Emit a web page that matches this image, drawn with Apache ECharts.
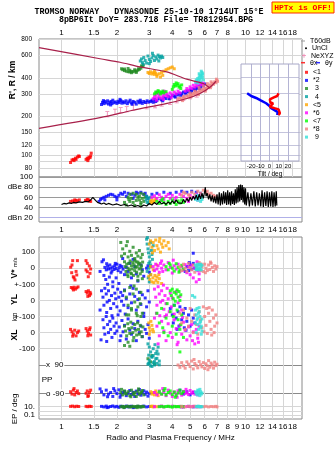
<!DOCTYPE html>
<html><head><meta charset="utf-8">
<script src="https://cdn.jsdelivr.net/npm/echarts@6/dist/echarts.min.js"></script>
<style>html,body{margin:0;padding:0;background:#fff}#c{width:335px;height:451px}</style>
</head><body><div id="c"></div>
<script>
// ---------- tick labels ----------
const FREQ_TICKS_TOP = [1,1.5,2,3,4,5,6,7,8,10,12,14,16,18];
const FREQ_TICKS = [1,1.5,2,3,4,5,6,7,8,9,10,12,14,16,18];
const R_TICKS = [80,90,100,120,150,200,300,400,600,800];
const DB_TICKS = [20,40,60,80,100];
const TILT_TICKS = [-20,-10,0,10,20];
const V_TICKS = [100,0];
const YL_TICKS = [100,0,-100];
const XL_TICKS = [0,-100];
const PP_TICKS = [90,-90];
const EP_TICKS = [10,1,0.1];
const EP_LABELS = [10,0.1];

// ---------- series meta ----------
const NAMES = ['<1','*2',' 3',' 4','<5','*6','<7','*8',' 9'];
const COLORS = ['#ff0000','#0000ff','#228b22','#00a0a0','#ffa500','#ff00ff','#00ff00','#f08080','#33e0d8'];

// ---------- model curves (MHz, km) ----------
const CURVE_A_F = [0.7545,1.619,2.08,2.67,3.73,4.79,5.9,6.35];
const CURVE_A_KM = [686,562,528,486,444,390,361,336];
const CURVE_B_F = [0.7545,1.619,2.446,3.745,4.81,5.66,6.41,6.91];
const CURVE_B_KM = [162,196,224,253,276,302,338,376];
const NE_F = [1.774,1.953,2.097,2.262,2.456,2.904,3.222,3.504,3.888,4.227,4.592,4.994,5.43];
const NE_KM = [208,218,224,228,235,241,245,253,260,268,279,288,297];

// ---------- tilt inset ----------
const THX_TILT = [9.8,8.3,4.7,0.3,-1.1,1.1,3.9,1.8,0.3,5.4,9.8,11.9,11.2,9.8];
const THX_KM = [302,288,281,271,262,255,253,245,238,232,227,221,212,205];
const THY_TILT = [-24.3,-20,-14.6,-9.1,-3.7,0,1.8,5.4,9,8.3];
const THY_KM = [302,288,278,265,253,241,232,224,216,205];

// ---------- tags ----------
const TAG_TXT = ['<1','3','4','<5','*2','<7','*6','*8','9'];
const TAG_F = [1.32,2.84,3.34,3.5,3.57,4.31,4.79,6.0,6.0];
const TAG_KM = [88,459,530,406,268,320,297,297,376];

// ---------- unclassified amplitude (MHz, dB) ----------
const UNCL_F = [1.0,1.03,1.06,1.1,1.13,1.16,1.2,1.25,1.3,1.35,1.4,1.45,1.48,1.5,1.53,1.57,1.6,1.65,1.7,1.75,1.8,1.9,2.0,2.1,2.2,2.3,2.4,2.5,2.6,2.7,2.8,2.9,3.0,3.1,3.2,3.3,3.4,3.5,3.6,3.7,3.8,3.9,4.0,4.1,4.2,4.3,4.4,4.5,4.6,4.7,4.8,4.9,5.0,5.1,5.2,5.3,5.4,5.5,5.6,5.7,5.8,5.9,6.0,6.05,6.1,6.2,6.3,6.4,6.5,6.6,6.7,6.8,6.9,7.0,7.1,7.2,7.3,7.4,7.5,7.6,7.7,7.8,7.9,8.0,8.1,8.2,8.3,8.4,8.5,8.6,8.7,8.8,8.9,9.0,9.1,9.2,9.3,9.4,9.5,9.6,9.7,9.8,9.9,10.0,10.1,10.3,10.5,10.7,10.9,11.1,11.3,11.5,11.7,11.9,12.1,12.3,12.5,12.7,12.9,13.1,13.3,13.5,13.7,13.9,14.1,14.3,14.5,14.7,14.8];
const UNCL_DB = [46,48,47,49,48,50,49,51,50,52,51,56,60,58,54,50,48,47,49,46,48,45,47,44,46,43,45,42,44,41,45,43,48,45,50,46,52,47,50,46,51,47,53,48,55,49,52,48,56,50,58,52,60,54,62,56,64,55,66,57,68,58,72,80,62,68,56,66,52,64,50,62,48,66,46,70,44,68,46,72,48,70,45,74,46,70,44,72,47,68,45,76,48,80,50,84,52,85,55,84,50,80,46,78,44,70,42,68,44,72,42,70,44,68,42,74,41,70,43,72,41,70,42,72,41,70,42,72,44];

// ---------- echo data per class: R'(MHz,km), dB, V*, YL, XL, PP, EP ----------
const S1_R = [[1.12,88],[1.14,92],[1.16,93],[1.17,91],[1.19,95],[1.2,93],[1.22,97],[1.24,99],[1.25,98],[1.36,93],[1.38,95],[1.4,94],[1.41,97],[1.43,96],[1.44,99],[1.45,104],[1.39,91]];
const S2_R = [[1.65,248],[1.67,258],[1.7,252],[1.72,262],[1.75,255],[1.78,265],[1.8,250],[1.83,258],[1.86,262],[1.88,252],[1.9,268],[1.93,256],[1.96,260],[2.0,253],[2.03,263],[2.06,257],[2.1,266],[2.13,254],[2.16,261],[2.2,256],[2.24,265],[2.28,252],[2.32,260],[2.36,268],[2.4,255],[2.45,262],[2.5,258],[2.55,250],[2.6,263],[2.65,256],[2.7,260],[2.75,253],[2.8,262],[2.86,257],[2.92,265],[2.98,259],[1.69,266],[1.85,246],[2.08,272],[2.42,249],[2.68,268],[3.05,262],[3.1,268],[3.15,258],[3.2,272],[3.3,266],[3.4,275],[3.5,270],[3.6,280],[3.7,276],[3.8,287],[3.9,282],[4.0,292],[4.1,288],[4.2,298],[4.3,294],[4.4,303],[4.5,300],[4.6,310],[4.7,306],[4.8,316],[4.9,312],[5.0,322],[5.1,318],[5.2,328],[5.3,325],[5.4,335],[5.5,331],[5.6,342],[5.7,338],[5.8,350],[5.9,346],[6.0,358],[3.25,262],[3.55,265],[3.85,275],[4.15,283],[4.45,292],[4.75,300],[5.05,310],[5.35,318],[5.65,330]];
const S3_R = [[2.12,470],[2.15,462],[2.2,455],[2.25,450],[2.3,446],[2.35,444],[2.4,448],[2.45,445],[2.5,452],[2.55,450],[2.6,458],[2.65,465],[2.7,475],[2.75,488],[2.78,500],[2.2,468],[2.35,458],[2.5,462],[2.62,470],[2.3,472],[2.72,495],[2.4,438],[2.55,440]];
const S4_R = [[2.68,540],[2.72,560],[2.75,525],[2.8,575],[2.85,545],[2.9,520],[2.95,590],[3.0,555],[3.05,535],[3.1,570],[3.15,595],[3.2,545],[3.25,580],[3.3,560],[3.35,600],[3.4,585],[3.45,570],[3.5,590],[3.55,575],[2.78,510],[3.0,515],[3.12,620],[3.38,540]];
const S5_R = [[2.95,440],[3.0,432],[3.05,445],[3.1,428],[3.15,438],[3.2,425],[3.25,435],[3.3,422],[3.4,430],[3.5,440],[3.6,450],[3.7,462],[3.8,470],[3.9,478],[4.0,485],[4.1,470],[3.55,418],[3.3,410],[3.45,405],[3.2,448]];
const S6_R = [[3.15,275],[3.2,285],[3.25,295],[3.3,280],[3.35,300],[3.4,290],[3.45,278],[3.5,305],[3.55,285],[3.6,295],[3.65,310],[3.7,290],[3.75,300],[3.8,285],[3.9,305],[4.0,295],[4.1,310],[4.2,300],[4.3,315],[4.4,305],[4.7,315],[4.8,330],[4.9,320],[5.0,340],[5.1,330],[5.2,350],[5.3,338],[5.4,355],[5.5,345],[5.6,362],[5.7,352],[5.8,365],[5.9,358],[3.3,310],[3.6,315],[3.28,268],[3.58,272],[3.95,282]];
const S7_R = [[3.2,300],[3.25,310],[3.3,305],[3.4,312],[3.5,308],[3.55,315],[3.6,305],[3.7,312],[4.0,325],[4.05,340],[4.1,355],[4.15,345],[4.2,365],[4.25,350],[4.3,360],[4.35,338],[4.4,345],[4.45,330],[4.5,352],[3.45,300],[3.35,318]];
const S8_R = [[4.3,272],[4.4,278],[4.5,275],[4.6,284],[4.7,280],[4.8,290],[4.9,286],[5.0,296],[5.1,292],[5.2,302],[5.3,298],[5.4,310],[5.5,305],[5.6,318],[5.7,312],[5.8,325],[5.9,320],[6.0,332],[6.1,328],[6.2,342],[6.3,336],[6.4,352],[6.5,346],[6.6,362],[6.7,356],[6.8,372],[6.9,366],[7.0,382],[7.05,375],[6.95,390],[4.55,266],[5.05,285],[5.55,296],[6.05,315],[6.45,335],[5.6,335],[5.9,345],[6.2,360],[6.5,372],[5.3,315],[5.0,305]];
const S9_R = [[5.35,370],[5.4,385],[5.45,375],[5.5,395],[5.55,380],[5.6,405],[5.65,390],[5.7,415],[5.75,398],[5.8,420],[5.85,405],[5.9,385],[5.5,365],[5.7,372],[5.6,430],[5.8,440],[5.75,450],[5.85,430],[5.65,420]];

const S1_DB = [[1.12,52],[1.15,53],[1.18,55],[1.2,54],[1.22,53],[1.25,55],[1.35,54],[1.38,56],[1.4,55],[1.42,53],[1.44,52],[1.17,51]];
const S2_DB = [[1.6,52],[1.63,56],[1.66,58],[1.7,60],[1.75,62],[1.8,64],[1.85,66],[1.9,65],[1.95,62],[2.0,60],[2.05,64],[2.1,68],[2.15,66],[2.2,70],[2.3,68],[2.4,66],[2.5,64],[2.6,68],[2.7,70],[2.8,66],[2.9,62],[2.95,58],[1.72,55],[2.25,62],[2.55,70],[2.85,68],[2.0,55],[2.45,58],[3.1,66],[3.3,68],[3.6,70],[3.9,68],[4.2,70],[4.5,72],[4.8,70],[5.1,72],[5.4,70],[5.7,68]];
const S3_DB = [[2.3,60],[2.35,66],[2.45,68],[2.55,66],[2.6,60],[2.55,54],[2.45,50],[2.35,52],[2.4,58],[2.65,62],[2.7,68],[2.8,66],[2.85,60],[2.8,52],[2.7,50],[2.65,55],[2.2,50],[2.25,45],[2.5,44],[2.7,46],[2.32,56],[2.75,58]];
const S4_DB = [[2.88,55],[2.92,50],[2.95,58],[2.98,48],[3.0,53],[2.9,62],[3.02,60]];
const S5_DB = [[3.05,52],[3.1,55],[3.15,50],[3.2,53],[3.08,48],[3.25,56]];
const S6_DB = [[3.1,60],[3.2,63],[3.3,58],[3.4,65],[3.5,60],[3.6,56],[3.7,62],[3.8,66],[3.9,58],[4.0,64],[4.2,60],[4.4,66],[4.6,62],[4.8,58],[5.0,64],[5.2,60],[5.4,66],[5.6,62],[3.45,54],[4.1,55],[4.9,52],[5.5,55]];
const S7_DB = [[3.3,52],[3.4,48],[3.5,54],[3.6,50],[3.7,46],[3.8,52],[3.9,48],[4.0,55],[4.1,50],[4.2,46],[4.3,53],[4.4,49],[4.5,55],[4.6,50],[3.55,57]];
const S8_DB = [[4.5,64],[4.7,68],[4.9,65],[5.1,70],[5.3,66],[5.5,72],[5.7,68],[5.9,74],[6.1,70],[6.3,66],[6.5,68],[6.7,64],[6.9,62],[5.0,60],[5.8,62],[6.2,72],[6.6,60],[4.6,70]];
const S9_DB = [[5.35,56],[5.4,60],[5.5,54],[5.55,62],[5.6,58],[5.7,52],[5.75,60],[5.8,56],[5.85,62],[5.45,64]];

const S1_V = [[1.15,47],[1.22,47],[1.136,-28],[1.159,-53],[1.184,-73],[1.21,-42],[1.122,6],[1.359,47],[1.38,30],[1.416,14],[1.38,-22],[1.428,-32],[1.398,-53],[1.359,-11],[1.17,-60],[1.2,-20],[1.14,20],[1.44,-5]];
const S2_V = [[1.72,5],[1.75,-10],[1.78,12],[1.8,-5],[1.83,20],[1.85,0],[1.88,-18],[1.9,8],[1.93,-8],[1.95,15],[1.98,-2],[2.0,25],[2.03,-15],[2.06,3],[2.1,-25],[2.13,10],[2.16,-6],[1.76,28],[1.86,-30],[1.96,30],[2.08,18],[1.66,40],[1.69,52],[1.7,-45],[1.74,-70],[1.82,-55],[1.9,-85],[1.98,-60],[2.05,-95],[2.2,-40],[2.25,5],[2.3,-20],[2.35,30],[2.4,-60],[2.5,10],[2.55,-35],[2.6,-80],[2.7,20],[2.75,-10],[2.8,-50],[2.9,0],[2.95,15],[3.0,-25],[3.05,10],[1.62,-20],[1.78,-100],[2.45,55],[2.15,60],[4.8,10],[4.9,-15],[5.0,20],[5.1,-5],[5.2,30],[5.3,0],[4.7,-20],[4.95,35],[5.2,93]];
const S3_V = [[2.2,40],[2.22,10],[2.24,-20],[2.26,25],[2.28,-40],[2.3,0],[2.32,30],[2.34,-10],[2.36,45],[2.38,-30],[2.4,15],[2.42,-5],[2.44,35],[2.46,-45],[2.48,20],[2.5,-15],[2.52,5],[2.54,40],[2.56,-25],[2.58,10],[2.6,-50],[2.62,25],[2.64,-5],[2.66,30],[2.68,-35],[2.7,0],[2.72,15],[2.74,-20],[2.76,38],[2.3,-52],[2.5,50],[2.4,-35],[2.6,38],[2.1,160],[2.15,120],[2.2,90],[2.25,140],[2.3,70],[2.35,105],[2.4,80],[2.45,130],[2.5,60],[2.55,95],[2.6,75],[2.65,110],[2.7,65],[2.75,85],[2.12,75],[2.28,165],[2.6,-75],[2.75,-65]];
const S4_V = [[2.9,180],[2.92,150],[2.95,120],[2.97,95],[3.0,70],[3.02,40],[3.05,160],[3.08,110],[3.1,85],[3.12,55],[3.15,140],[2.98,30],[3.05,20],[2.93,190],[2.92,-20],[2.96,-60],[3.0,-85],[3.04,-40],[2.98,0]];
const S5_V = [[3.0,150],[3.05,170],[3.1,130],[3.15,160],[3.2,110],[3.25,175],[3.3,140],[3.35,120],[3.4,165],[3.45,100],[3.5,150],[3.55,130],[3.6,170],[3.7,140],[3.8,160],[3.85,120],[3.12,95],[3.42,185],[2.98,-50],[3.02,-70],[3.06,-40],[3.1,-85],[3.14,-60],[3.18,-90],[3.22,-45],[3.26,-75],[3.3,-55],[3.34,-88],[3.4,-65],[3.5,-95],[3.38,-40],[3.05,10],[3.15,-10],[3.3,20]];
const S6_V = [[3.15,10],[3.2,-15],[3.25,25],[3.3,-5],[3.35,15],[3.4,-25],[3.45,30],[3.5,0],[3.55,-20],[3.6,20],[3.7,-10],[3.8,35],[3.9,5],[4.0,-30],[4.1,15],[4.2,-5],[4.3,25],[4.4,-20],[4.5,10],[4.6,-12],[4.7,22],[4.8,-28],[4.9,8],[5.0,-40],[5.1,18],[5.2,-60],[5.3,5],[5.4,-85],[5.5,-15],[5.6,-70],[3.5,45],[4.05,50],[5.6,-35],[5.45,40]];
const S7_V = [[3.7,10],[3.8,-10],[3.9,20],[4.0,0],[4.1,-18],[4.2,28],[4.3,5],[4.4,-12],[4.5,18],[4.6,-5],[3.85,30],[4.35,-25]];
const S8_V = [[4.4,10],[4.5,-15],[4.6,25],[4.7,0],[4.8,-20],[4.9,30],[5.0,5],[5.1,-10],[5.2,20],[5.3,-25],[5.4,15],[5.5,-5],[5.6,35],[5.7,-15],[5.8,10],[5.9,-20],[6.0,25],[6.1,0],[6.2,-15],[6.3,20],[6.4,-8],[6.5,30],[6.6,5],[6.7,-20],[6.8,15],[6.9,-5],[7.0,10],[6.05,-28],[6.45,38],[5.75,25]];
const S9_V = [[5.35,20],[5.4,5],[5.45,-8],[5.5,15],[5.55,0],[5.6,22],[5.65,-5],[5.7,10],[5.75,-10],[5.8,18],[5.4,-10],[5.6,-10],[5.5,25],[5.7,25]];

const S1_YL = [[1.13,80],[1.15,75],[1.17,82],[1.19,70],[1.21,78],[1.23,84],[1.16,65],[1.36,55],[1.38,45],[1.4,60],[1.42,30],[1.44,40],[1.39,25],[1.43,50]];
const S2_YL = [[1.65,60],[1.68,20],[1.7,-30],[1.72,75],[1.75,40],[1.77,-10],[1.8,60],[1.82,0],[1.85,-50],[1.87,30],[1.9,85],[1.92,-20],[1.95,45],[1.97,10],[2.0,-40],[2.02,70],[2.05,20],[2.08,-65],[2.1,50],[2.12,-5],[2.15,30],[2.18,-30],[2.2,65],[2.25,10],[2.3,-45],[2.35,40],[2.4,-15],[2.45,75],[2.5,25],[2.55,-60],[2.6,5],[2.65,50],[2.7,-25],[2.75,35],[2.8,-80],[2.85,15],[2.9,-40],[2.95,60],[3.0,-10],[1.76,-75],[1.88,-95],[2.22,-85],[1.62,-60],[2.38,90]];
const S3_YL = [[2.2,60],[2.25,20],[2.3,-30],[2.35,80],[2.4,-60],[2.45,40],[2.5,-10],[2.55,70],[2.6,-40],[2.65,10],[2.7,50],[2.75,-80],[2.32,-90],[2.58,-95],[2.48,90],[2.68,-20]];
const S4_YL = [];
const S5_YL = [];
const S6_YL = [[3.2,70],[3.25,20],[3.3,-30],[3.35,85],[3.4,40],[3.45,-10],[3.5,60],[3.55,0],[3.6,-55],[3.65,30],[3.7,-20],[3.75,75],[3.8,10],[3.85,-70],[3.9,45],[3.95,-40],[4.0,15],[4.1,-85],[4.2,55],[4.3,-15],[4.4,25],[4.5,-60],[3.28,-80],[3.42,-95],[3.58,95],[3.72,-90]];
const S7_YL = [[3.9,60],[3.95,30],[4.0,70],[4.05,10],[4.1,50],[4.15,-5],[4.2,40],[4.25,65],[4.3,20],[4.35,55],[4.4,0],[4.45,35]];
const S8_YL = [];
const S9_YL = [[5.15,30],[5.3,20]];

const S1_XL = [[1.12,20],[1.14,5],[1.16,-10],[1.18,15],[1.2,-20],[1.22,0],[1.24,10],[1.15,-22],[1.36,25],[1.38,10],[1.4,-5],[1.42,18],[1.44,-15],[1.39,-20],[1.43,30]];
const S2_XL = [[1.68,80],[1.7,30],[1.72,-10],[1.75,100],[1.78,50],[1.8,0],[1.83,70],[1.85,20],[1.88,-30],[1.9,90],[1.93,40],[1.95,-5],[1.98,60],[2.0,10],[2.03,110],[2.06,35],[2.1,-20],[2.13,75],[2.16,5],[2.2,45],[2.25,-40],[2.3,85],[2.35,15],[2.4,-10],[2.45,55],[2.5,25],[2.55,-50],[2.6,70],[2.65,0],[2.7,40],[2.75,-25],[2.8,100],[2.85,20],[2.9,-5],[2.95,50],[3.0,-35],[1.64,-45],[1.76,-55],[2.08,-50],[3.9,150],[4.0,110],[4.05,60],[4.1,170],[4.2,90],[4.3,130],[4.35,40],[4.4,160],[4.5,80],[4.6,120],[4.65,30],[4.7,150],[4.8,70],[4.9,110],[5.0,40],[5.1,140],[5.2,90],[5.3,60],[4.25,20],[4.75,15]];
const S3_XL = [[2.2,40],[2.23,10],[2.26,-20],[2.29,55],[2.32,25],[2.35,-5],[2.38,65],[2.41,30],[2.44,0],[2.47,-30],[2.5,50],[2.53,15],[2.56,-15],[2.59,60],[2.62,20],[2.65,-10],[2.68,45],[2.71,5],[2.74,-25],[2.77,35],[2.25,110],[2.4,150],[2.55,120],[2.7,100],[2.3,-60],[2.2,-80],[2.35,-85],[2.45,-50]];
const S4_XL = [[2.95,-70],[3.0,-90],[3.05,-120],[3.1,-150],[3.15,-100],[3.2,-180],[3.25,-130],[3.3,-160],[3.35,-90],[3.4,-200],[3.0,-190],[3.1,-210],[2.98,-140],[3.22,-75],[3.3,-115]];
const S5_XL = [[2.98,60],[3.0,30],[3.03,10],[3.06,70],[3.1,45],[3.13,20],[3.16,5],[3.0,-10]];
const S6_XL = [[3.2,90],[3.3,40],[3.4,-20],[3.5,70],[3.6,10],[3.7,-50],[3.8,55],[3.9,0],[4.0,-30],[4.1,80],[4.2,25],[4.3,-60],[4.4,45],[4.5,-10],[4.6,65],[4.7,15],[4.8,-45],[4.9,35],[5.0,-20],[5.1,50],[5.2,5],[5.3,-70],[5.4,20],[5.5,-35],[5.6,40],[3.35,-70],[3.65,100],[4.25,-75],[5.15,-50],[4.55,95],[5.55,-60]];
const S7_XL = [[3.3,120],[3.4,60],[3.5,150],[3.6,0],[3.7,90],[3.8,-20],[3.9,130],[4.0,40],[4.1,170],[4.2,-10],[4.3,80],[4.4,20],[4.5,110],[4.6,-30],[3.55,30],[4.05,100],[4.25,140],[3.75,180],[4.45,50],[4.4,-120]];
const S8_XL = [[4.4,120],[4.5,60],[4.6,140],[4.7,20],[4.8,90],[4.9,40],[5.0,150],[5.1,70],[5.2,0],[5.3,110],[5.4,50],[5.5,-10],[5.6,130],[5.7,80],[5.8,30],[5.9,160],[6.0,100],[6.1,45],[6.2,-5],[6.3,120],[6.4,70],[6.5,20],[6.6,140],[6.7,90],[6.8,40],[6.9,110],[7.0,60],[6.15,150],[6.55,-15],[5.95,5],[6.35,155],[6.75,0]];
const S9_XL = [[5.35,140],[5.4,110],[5.45,80],[5.5,50],[5.55,20],[5.6,130],[5.65,100],[5.7,70],[5.75,40],[5.8,10],[5.45,150],[5.55,120],[5.65,60],[5.75,-10],[5.5,90],[5.7,30],[5.4,0],[5.6,155],[5.8,85],[5.35,60]];

const S1_PP = [[1.12,-80],[1.14,-95],[1.16,-70],[1.18,-100],[1.2,-85],[1.22,-75],[1.24,-92],[1.36,-90],[1.38,-75],[1.4,-105],[1.42,-85],[1.44,-70],[1.17,-60],[1.39,-110]];
const S2_PP = [[1.65,-80],[1.7,-100],[1.75,-70],[1.8,-95],[1.85,-85],[1.9,-110],[1.95,-75],[2.0,-92],[2.05,-68],[2.1,-100],[2.15,-85],[2.2,-78],[2.25,-105],[2.3,-90],[2.35,-72],[2.4,-98],[2.45,-84],[2.5,-110],[2.55,-76],[2.6,-94],[2.65,-66],[2.7,-102],[2.75,-88],[2.8,-74],[2.85,-96],[2.9,-82],[2.95,-108],[3.0,-90],[1.62,-62],[1.78,-112],[1.92,-60],[2.08,-115],[4.6,-95],[4.8,-80],[5.0,-100],[5.2,-85],[4.4,-70]];
const S3_PP = [[2.1,-85],[2.15,-100],[2.2,-75],[2.25,-95],[2.3,-80],[2.35,-105],[2.4,-70],[2.45,-92],[2.5,-84],[2.55,-110],[2.6,-78],[2.65,-96],[2.7,-88],[2.75,-72],[2.8,-100],[2.12,-65],[2.38,-112],[2.62,-62],[2.22,-90],[2.48,-98],[2.72,-82],[2.95,130],[3.05,110],[3.1,150],[3.2,95]];
const S4_PP = [[2.95,95],[3.0,120],[3.05,85],[3.1,140],[3.15,105],[3.2,90],[3.25,130],[3.3,100],[3.35,160],[3.4,115],[2.98,100],[3.15,150]];
const S5_PP = [[3.05,-80],[3.1,-95],[3.15,-85],[3.2,-100],[3.25,-75],[3.3,-90],[3.35,-105]];
const S6_PP = [[3.2,-85],[3.3,-100],[3.4,-75],[3.5,-95],[3.6,-80],[3.7,-105],[3.8,-70],[3.9,-90],[4.0,-110],[4.1,-82],[4.2,-96],[4.3,-74],[4.4,-88],[4.5,-102],[4.6,-78],[4.7,-92],[4.8,-84],[4.9,-98],[5.0,-72],[5.1,-90],[5.2,-80],[5.3,-95],[5.4,-85],[5.5,-100],[3.55,-60],[4.25,-115],[4.75,-65]];
const S7_PP = [[3.4,-80],[3.5,-95],[3.6,-72],[3.7,-100],[3.8,-85],[3.9,-75],[4.0,-98],[4.1,-82],[4.2,-105],[4.3,-88],[4.4,-70],[4.5,-92],[4.6,-80],[3.65,-60],[4.15,-115]];
const S8_PP = [[4.3,90],[4.4,75],[4.5,105],[4.6,85],[4.7,70],[4.8,110],[4.9,95],[5.0,80],[5.1,115],[5.2,65],[5.3,100],[5.4,88],[5.5,72],[5.6,112],[5.7,92],[5.8,78],[5.9,105],[6.0,68],[6.1,98],[6.2,84],[6.3,118],[6.4,76],[6.5,102],[6.6,90],[6.7,70],[6.8,108],[6.9,86],[7.0,95],[5.25,125],[6.25,60]];
const S9_PP = [[5.35,-80],[5.4,-95],[5.45,-85],[5.5,-100],[5.55,-75],[5.6,-90],[5.65,-105],[5.7,-80],[5.75,-95],[5.8,-88],[5.5,-70],[5.65,-65]];

const S1_EP = [[1.12,12],[1.15,14],[1.18,10],[1.21,13],[1.24,11],[1.36,12],[1.39,10],[1.42,13],[1.45,11]];
const S2_EP = [[1.65,12],[1.7,9],[1.75,14],[1.8,8],[1.85,11],[1.9,15],[1.95,9],[2.0,12],[2.05,7],[2.1,13],[2.15,10],[2.2,8],[2.25,14],[2.3,9],[2.35,11],[2.4,13],[2.5,8],[2.6,12],[2.7,10],[2.8,14],[2.9,9],[3.0,11],[4.6,10],[4.9,12],[5.2,9],[5.5,11],[5.7,10],[2.45,6],[1.77,6]];
const S3_EP = [[2.1,10],[2.15,12],[2.2,9],[2.25,11],[2.3,13],[2.35,8],[2.4,10],[2.45,12],[2.5,9],[2.55,11],[2.6,14],[2.65,10],[2.7,8],[2.75,12],[2.8,10],[2.18,6],[2.58,6]];
const S4_EP = [];
const S5_EP = [[3.05,11],[3.1,14],[3.15,9],[3.2,12],[3.3,10]];
const S6_EP = [[3.2,10],[3.4,12],[3.6,9],[3.8,11],[4.0,13],[4.2,10],[4.4,12],[4.6,9],[4.8,11],[5.0,10],[5.2,12],[5.4,9],[3.5,14],[4.5,8]];
const S7_EP = [[3.4,10],[3.5,12],[3.6,9],[3.7,11],[3.8,13],[3.9,10],[4.0,8],[4.1,12],[4.2,10],[4.3,11],[4.4,9],[4.5,12],[4.6,10]];
const S8_EP = [[4.5,11],[4.7,9],[4.9,12],[5.1,10],[5.3,13],[5.5,9],[5.7,11],[5.9,10],[6.1,12],[6.3,9],[6.5,11],[6.7,10],[6.9,12],[7.0,9]];
const S9_EP = [[5.4,10],[5.5,12],[5.6,9],[5.7,11],[5.8,10],[5.55,13]];

// ---------- build ----------
const L = Math.log10;
const FONT = '"Liberation Sans", Arial, sans-serif';
const FREQ_MIN = 0.7545, FREQ_MAX = 20.28;
const R_MIN = 67.9, R_MAX = 800;
const INSET_R = [90.5, 509];

const CLASSES = [
  [S1_R,S1_DB,S1_V,S1_YL,S1_XL,S1_PP,S1_EP],
  [S2_R,S2_DB,S2_V,S2_YL,S2_XL,S2_PP,S2_EP],
  [S3_R,S3_DB,S3_V,S3_YL,S3_XL,S3_PP,S3_EP],
  [S4_R,S4_DB,S4_V,S4_YL,S4_XL,S4_PP,S4_EP],
  [S5_R,S5_DB,S5_V,S5_YL,S5_XL,S5_PP,S5_EP],
  [S6_R,S6_DB,S6_V,S6_YL,S6_XL,S6_PP,S6_EP],
  [S7_R,S7_DB,S7_V,S7_YL,S7_XL,S7_PP,S7_EP],
  [S8_R,S8_DB,S8_V,S8_YL,S8_XL,S8_PP,S8_EP],
  [S9_R,S9_DB,S9_V,S9_YL,S9_XL,S9_PP,S9_EP]
];

const fmtF = v => String(Math.round(Math.pow(10, v) * 10) / 10);
const lab = (extra) => Object.assign({fontSize: 8, color: '#000', fontFamily: FONT, hideOverlap: false, showMinLabel: true, showMaxLabel: true}, extra);
const GRIDC = '#d6d6d6';

function xAx(gi, o) {
  return Object.assign({gridIndex: gi, type: 'value', min: L(FREQ_MIN), max: L(FREQ_MAX),
    axisLine: {show: false}, axisTick: {show: false}, splitLine: {show: false}, axisLabel: {show: false}}, o);
}
function yAx(gi, o) {
  return Object.assign({gridIndex: gi, type: 'value', position: 'left',
    axisLine: {show: false}, axisTick: {show: false}, splitLine: {show: false}, axisLabel: {show: false}}, o);
}

const xAxis = [
  xAx(0, {position: 'top', axisTick: {show: false, customValues: FREQ_TICKS_TOP.map(L)},
    axisLabel: lab({show: true, customValues: FREQ_TICKS_TOP.map(L), formatter: fmtF, margin: 2}),
    splitLine: {show: true, lineStyle: {color: GRIDC, width: 1}}}),
  {gridIndex: 1, type: 'value', min: -31, max: 32, axisLine: {show: false},
    axisTick: {show: false, customValues: TILT_TICKS}, axisLabel: lab({customValues: TILT_TICKS, fontSize: 6, margin: 2}),
    splitLine: {show: true, lineStyle: {color: '#b4b4d4'}},
    name: 'Tilt / deg', nameLocation: 'middle', nameGap: 10, nameTextStyle: {fontSize: 6.5, fontFamily: FONT, color: '#000'}, z: 10},
  xAx(2, {axisTick: {show: false, customValues: FREQ_TICKS.map(L)},
    axisLabel: lab({show: true, customValues: FREQ_TICKS.map(L), formatter: fmtF, margin: 4})}),
  xAx(3, {axisTick: {show: false, customValues: FREQ_TICKS.map(L)},
    axisLabel: lab({show: true, customValues: FREQ_TICKS.map(L), formatter: fmtF, margin: 4}),
    splitLine: {show: true, lineStyle: {color: GRIDC}},
    name: 'Radio and Plasma Frequency / MHz', nameLocation: 'middle', nameGap: 15,
    nameTextStyle: {fontSize: 8, fontFamily: FONT, color: '#000'}})
];

const yAxis = [
  yAx(0, {min: L(R_MIN), max: L(R_MAX), axisTick: {show: false, customValues: R_TICKS.map(L)},
    axisLabel: lab({show: true, customValues: R_TICKS.map(L), formatter: v => String(Math.round(Math.pow(10, v))), margin: 7, fontSize: 6.5, lineHeight: 6}),
    splitLine: {show: true, lineStyle: {color: GRIDC}}}),
  yAx(1, {min: L(INSET_R[0]), max: L(INSET_R[1]), axisTick: {show: false, customValues: R_TICKS.map(L)},
    splitLine: {show: true, lineStyle: {color: '#c4c4dc'}}, z: 10}),
  yAx(2, {min: 11.5, max: 100, axisTick: {show: false, customValues: DB_TICKS},
    axisLabel: lab({show: true, customValues: DB_TICKS, margin: 6,
      formatter: v => v === 80 ? 'dBe 80' : v === 20 ? 'dBn 20' : String(v)}),
    splitLine: {show: true, lineStyle: {color: ['#b0b0e8', '#9a9a9a', '#9a9a9a', '#9a9a9a', '#9a9a9a']}}}),
  yAx(3, {min: -936.6, max: 193.8, axisTick: {show: false, customValues: V_TICKS},
    axisLabel: lab({show: true, customValues: V_TICKS, margin: 4}), splitLine: {show: true, lineStyle: {color: GRIDC}}}),
  yAx(3, {min: -736.6, max: 393.8, axisTick: {show: false, customValues: YL_TICKS},
    axisLabel: lab({show: true, customValues: YL_TICKS, margin: 4, formatter: v => v === 0 ? '0' : '+-100'}),
    splitLine: {show: true, lineStyle: {color: GRIDC}}}),
  yAx(3, {min: -536.6, max: 593.8, axisTick: {show: false, customValues: XL_TICKS},
    axisLabel: lab({show: true, customValues: XL_TICKS, margin: 4}), splitLine: {show: true, lineStyle: {color: GRIDC}}}),
  yAx(3, {min: -253.5, max: 904.3, axisTick: {show: false, customValues: PP_TICKS},
    axisLabel: lab({show: true, inside: true, customValues: PP_TICKS, margin: 7,
      formatter: v => v > 0 ? 'x  90' : 'o -90', backgroundColor: '#fff', padding: [0, 1, 0, 0]}),
    splitLine: {show: true, lineStyle: {color: '#8a8a8a'}}}),
  yAx(3, {min: -1.964, max: 41.89, axisTick: {show: false, customValues: EP_TICKS.map(L)},
    axisLabel: lab({show: true, customValues: EP_LABELS.map(L), margin: 4, formatter: v => v > 0 ? '10.' : '0.1'}),
    splitLine: {show: true, lineStyle: {color: GRIDC}}})
];

const INSET = {left: 241, top: 64, width: 58, height: 97};
const grid = [
  {left: 39, top: 39, width: 263, height: 138, show: true, borderColor: '#8a8a8a', borderWidth: 1, backgroundColor: '#fff'},
  Object.assign({show: true, borderColor: '#a8a8c8', borderWidth: 1, backgroundColor: 'transparent', z: 12}, INSET),
  {left: 39, top: 177, width: 263, height: 45, show: true, borderColor: '#8a8a8a', borderWidth: 1, backgroundColor: '#fff'},
  {left: 39, top: 237, width: 263, height: 182, show: true, borderColor: '#8a8a8a', borderWidth: 1, backgroundColor: '#fff'}
];

const zipLL = (fs, vs) => fs.map((f, i) => [L(f), L(vs[i])]);
const logPairs = (arr, logY) => arr.map(p => [L(p[0]), logY ? L(p[1]) : p[1]]);

const series = [];
const base = {silent: true, animation: false};
series.push(Object.assign({type: 'line', name: 'T60dB', xAxisIndex: 2, yAxisIndex: 2, data: [],
  lineStyle: {color: '#9a9a9a'}, itemStyle: {color: '#9a9a9a'}}, base));
series.push(Object.assign({type: 'line', name: 'modelA', xAxisIndex: 0, yAxisIndex: 0, data: zipLL(CURVE_A_F, CURVE_A_KM),
  symbol: 'none', smooth: 0.3, lineStyle: {color: '#a8204a', width: 1.2}}, base));
series.push(Object.assign({type: 'line', name: 'modelB', xAxisIndex: 0, yAxisIndex: 0, data: zipLL(CURVE_B_F, CURVE_B_KM),
  symbol: 'none', smooth: 0.3, lineStyle: {color: '#a8204a', width: 1.2}}, base));
series.push(Object.assign({type: 'scatter', name: 'NeXYZ', xAxisIndex: 0, yAxisIndex: 0, data: zipLL(NE_F, NE_KM),
  symbol: 'path://M0,0H5V1H3V7H5V8H0V7H2V1H0Z', symbolSize: [4, 6], itemStyle: {color: '#e8609a'}}, base));
series.push(Object.assign({type: 'line', name: 'UnCl', xAxisIndex: 2, yAxisIndex: 2,
  data: UNCL_F.map((f, i) => [L(f), UNCL_DB[i]]), symbol: 'none', lineStyle: {color: '#000', width: 1.2}, itemStyle: {color: '#000'}}, base));

const PANELS = [[0, 0, true], [2, 2, false], [3, 3, false], [3, 4, false], [3, 5, false], [3, 6, false], [3, 7, 'ep']];
CLASSES.forEach((arrs, ci) => {
  arrs.forEach((arr, pi) => {
    const [xi, yi, lg] = PANELS[pi];
    series.push(Object.assign({type: 'scatter', name: NAMES[ci], xAxisIndex: xi, yAxisIndex: yi,
      data: logPairs(arr, !!lg), symbol: 'rect', symbolSize: 3, itemStyle: {color: COLORS[ci]}}, base));
  });
});

series.push(Object.assign({type: 'scatter', name: 'tags', xAxisIndex: 0, yAxisIndex: 0,
  data: TAG_TXT.map((t, i) => ({name: t, value: [L(TAG_F[i]), L(TAG_KM[i])]})),
  symbolSize: 1, itemStyle: {opacity: 0},
  label: {show: true, position: 'inside', formatter: p => p.name, color: '#000', fontSize: 9, fontWeight: 'bold', fontFamily: FONT}, z: 5}, base));

series.push(Object.assign({type: 'line', name: 'θy', xAxisIndex: 1, yAxisIndex: 1,
  data: THY_TILT.map((t, i) => [t, L(THY_KM[i])]), symbol: 'none', lineStyle: {color: '#0000ff', width: 2.5}, itemStyle: {color: '#3030ff'}, z: 14}, base));
series.push(Object.assign({type: 'line', name: 'θx', xAxisIndex: 1, yAxisIndex: 1,
  data: THX_TILT.map((t, i) => [t, L(THX_KM[i])]), symbol: 'none', lineStyle: {color: '#ff0000', width: 2.5}, itemStyle: {color: '#ff3030'}, z: 14}, base));

const lt = {fontSize: 7, fontFamily: FONT, color: '#000', lineHeight: 8};
const lg = (o) => Object.assign({padding: 0, selectedMode: false, textStyle: lt, orient: 'vertical'}, o);
const legend = [
  lg({data: [{name: 'T60dB', icon: 'rect'}], left: 301, top: 37, itemWidth: 4, itemHeight: 1}),
  lg({data: [{name: 'UnCl', icon: 'circle'}], left: 305, top: 44.3, itemWidth: 2, itemHeight: 2}),
  lg({data: [{name: 'NeXYZ', icon: 'path://M2,0H3V2H5V3H3V5H2V3H0V2H2Z'}], left: 302, top: 51.7, itemWidth: 4, itemHeight: 4}),
  lg({data: [{name: 'θx', icon: 'rect'}], left: 301, top: 58.7, itemWidth: 4, itemHeight: 1.5}),
  lg({data: [{name: 'θy', icon: 'rect'}], left: 316, top: 58.7, itemWidth: 4, itemHeight: 1.5}),
  lg({data: NAMES.map(n => ({name: n, icon: 'rect'})), left: 305, top: 68.3, itemWidth: 3, itemHeight: 3, itemGap: 0.1})
];

const tx = (text, x, y, o) => Object.assign({type: 'text', x, y, silent: true,
  style: Object.assign({text, align: 'center', verticalAlign: 'middle', fontSize: 8, fontFamily: FONT, fill: '#000'}, o && o.style || {})},
  o && o.rot ? {rotation: Math.PI / 2} : {}, o && o.z ? {z: o.z} : {});

const MONO = '"Liberation Mono", "DejaVu Sans Mono", monospace';
const graphic = [
  {type: 'rect', shape: {x: INSET.left, y: INSET.top, width: INSET.width, height: INSET.height}, style: {fill: '#fff'}, silent: true, z: 8},
  tx('TROMSO NORWAY   DYNASONDE 25-10-10 1714UT 15°E', 149, 12, {style: {fontFamily: MONO, fontSize: 8.3, fontWeight: 'bold'}}),
  tx('8pBP6It DoY= 283.718 File= TR812954.BPG', 156, 20, {style: {fontFamily: MONO, fontSize: 8.3, fontWeight: 'bold'}}),
  {type: 'rect', shape: {x: 272, y: 2, width: 62, height: 11}, style: {fill: '#ffff00', stroke: '#ff2a00', lineWidth: 1}, silent: true},
  tx('HPTx is OFF!', 303, 7.5, {style: {fontFamily: MONO, fontSize: 8, fill: '#ff0000', fontWeight: 'bold'}}),
  tx("R', R / km", 13, 80, {rot: true, style: {fontSize: 8.5, fontWeight: 'bold'}}),
  tx('{a|V*} {b|m/s}', 15, 268, {rot: true, style: {rich: {a: {fontSize: 8.5, fontWeight: 'bold', fontFamily: FONT}, b: {fontSize: 6, fontFamily: FONT}}}}),
  tx('YL', 15, 299.5, {rot: true, style: {fontSize: 8.5, fontWeight: 'bold'}}),
  tx('km', 15, 317, {rot: true, style: {fontSize: 6.5}}),
  tx('XL', 15, 335, {rot: true, style: {fontSize: 8.5, fontWeight: 'bold'}}),
  tx('PP', 47, 380, {style: {fontSize: 8}, z: 10}),
  tx('EP / deg', 15, 409, {rot: true, style: {fontSize: 8}})
];

const chart = echarts.init(document.getElementById('c'), null, {renderer: 'canvas'});
chart.setOption({animation: false, backgroundColor: '#fff', grid, xAxis, yAxis, series, legend, graphic, tooltip: {show: false}});
</script></body></html>
